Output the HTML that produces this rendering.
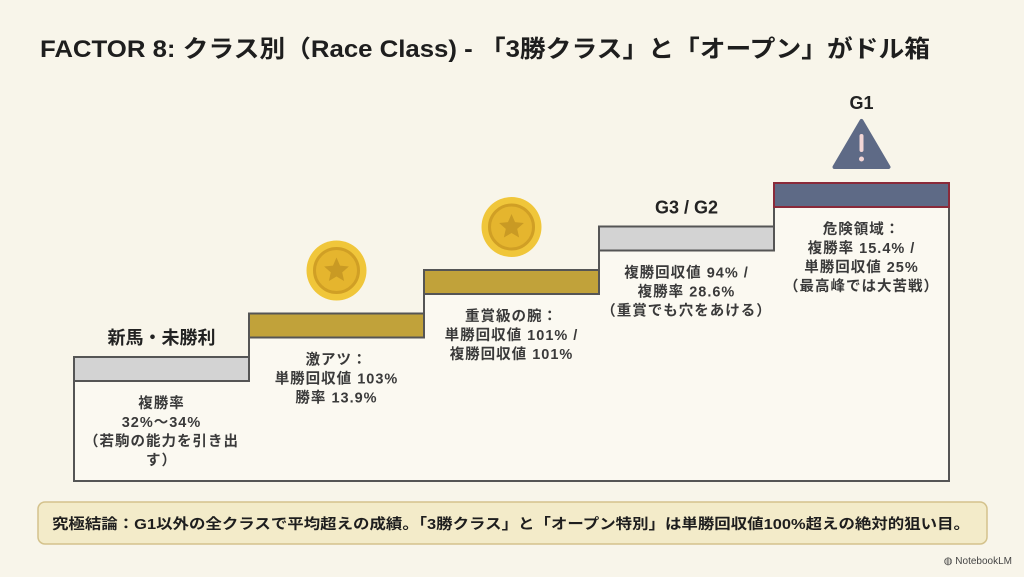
<!DOCTYPE html>
<html><head><meta charset="utf-8"><style>
body{margin:0;width:1024px;height:572px;background:#f8f5ea;overflow:hidden;font-family:"Liberation Sans","Noto Sans CJK JP",sans-serif}
svg text{font-family:"Liberation Sans","Noto Sans CJK JP",sans-serif}
.t{font-weight:bold;font-size:14.5px;fill:#3a3a3a;text-anchor:middle;letter-spacing:1px}
.lbl{font-weight:bold;font-size:18px;fill:#222;text-anchor:middle}
</style></head><body>
<svg width="1024" height="572">
<text x="40" y="57" font-size="24" font-weight="bold" fill="#1e1e1e" textLength="890" lengthAdjust="spacingAndGlyphs">FACTOR 8: クラス別（Race Class) - 「3勝クラス」と「オープン」がドル箱</text>
<g id="steps"></g>
<rect x="38" y="502" width="949" height="42" rx="7" fill="#f3ebc9" stroke="#d4c28c" stroke-width="1.5"/>
<text x="52" y="529" font-size="14.5" font-weight="bold" fill="#1e1e1e" textLength="918" lengthAdjust="spacingAndGlyphs">究極結論：G1以外の全クラスで平均超えの成績。「3勝クラス」と「オープン特別」は単勝回収値100%超えの絶対的狙い目。</text>
<text x="1012" y="564" font-size="10" fill="#444" text-anchor="end">◍ NotebookLM</text>
</svg>
<script>
const categories=["新馬・未勝利","3勝クラス","オープン","G3 / G2","G1"];
const levels=[1,2,3,4,5];
const labels=[["複勝率","32%〜34%","（若駒の能力を引き出","す）"],["激アツ：","単勝回収値 103%","勝率 13.9%"],["重賞級の腕：","単勝回収値 101% /","複勝回収値 101%"],["複勝回収値 94% /","複勝率 28.6%","（重賞でも穴をあける）"], ["危険領域：","複勝率 15.4% /","単勝回収値 25%","（最高峰では大苦戦）"]];
const showTitle=[true,false,false,true,true];
const icons=["none","coin","coin","none","warn"];
const fills=["#d3d3d3","#c1a23a","#c1a23a","#d3d3d3","#5e6a86"];
const x0=74,stepW=175,baseY=481;
function yOf(l){return 357-(l-1)*43.5;}
const ns="http://www.w3.org/2000/svg";
const g=document.getElementById("steps");
function mk(t,a){const e=document.createElementNS(ns,t);for(const k in a)e.setAttribute(k,a[k]);g.appendChild(e);return e;}
let d=`M${x0},${baseY} L${x0},${yOf(levels[0])}`;
levels.forEach((l,i)=>{const y=yOf(l);d+=` L${x0+i*stepW},${y} L${x0+(i+1)*stepW},${y}`;});
d+=` L${x0+levels.length*stepW},${baseY} Z`;
const o=mk("path",{d:d,fill:"#fbf9f1",stroke:"#555",'stroke-width':2});


levels.forEach((l,i)=>{
 const x=x0+i*stepW,y=yOf(l),cx=x+stepW/2;
 const r=mk("rect",{x:x,y:y,width:stepW,height:24,fill:fills[i],stroke:i==4?"#8a2a3a":"#555",'stroke-width':2});
 
 
 if(showTitle[i]){const t=mk("text",{x:cx,y:i==4?y-74:y-13,class:"lbl"});t.textContent=categories[i];
  
  }
 if(icons[i]=="coin"){const cy=y-43;
  const c=mk("circle",{cx:cx,cy:cy,r:30,fill:"#f0c63a"});
  
  
  mk("circle",{cx:cx,cy:cy,r:22,fill:"#e5b52e",stroke:"#d09f25",'stroke-width':3});
  let p="";for(let k=0;k<10;k++){const a=-Math.PI/2+k*Math.PI/5,rr=k%2?6:13;p+=(cx+rr*Math.cos(a))+","+(cy+rr*Math.sin(a))+" ";}
  mk("polygon",{points:p,fill:"#c99a24"});}
 if(icons[i]=="warn"){const cy=y-32;
  const w=mk("path",{d:`M${cx},${cy-30} L${cx+27},${cy+16} L${cx-27},${cy+16} Z`,fill:"#5e6a86",stroke:"#5e6a86",'stroke-width':4,'stroke-linejoin':'round'});
  
  
  mk("rect",{x:cx-2,y:cy-17,width:4,height:18,rx:2,fill:"#f3d6d6"});
  mk("circle",{cx:cx,cy:cy+8,r:2.5,fill:"#f3d6d6"});}
 labels[i].forEach((s,j)=>{const t=mk("text",{x:cx,y:y+51+j*19,class:"t"});t.textContent=s;
  
  });
});
</script>
</body></html>
